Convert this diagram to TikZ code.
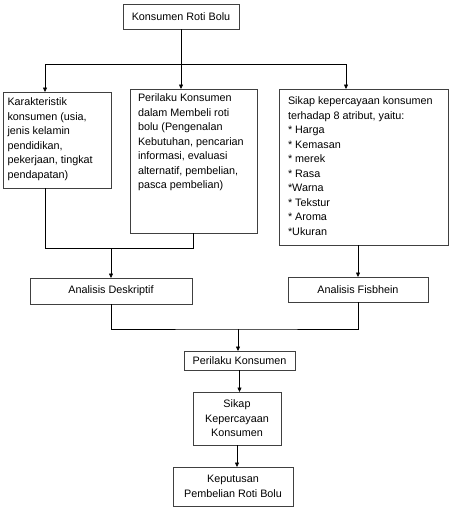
\documentclass[tikz,border=0pt]{standalone}
\usepackage{fontspec}
\setmainfont{Liberation Sans}
\usetikzlibrary{arrows.meta}

\tikzset{kotak/.style={draw=black!75, line width=0.7pt, outer sep=0pt, inner sep=0pt,
    font=\fontsize{10.8}{14.5}\selectfont},
  tengah/.style={kotak, align=center}}

\begin{document}
\begin{tikzpicture}[x=1pt,y=-1pt,>={Triangle[length=4.5pt,width=4pt]},line width=0.6pt]
\useasboundingbox (0,0) rectangle (451,514);

\node[tengah, minimum width=116pt, minimum height=25pt] (top) at (181,16.5) {Konsumen Roti Bolu};

\node[kotak, anchor=north west, inner xsep=4.5pt, inner ysep=6pt] (kar) at (3,92)
  {\parbox[t][84pt][t]{99pt}{\raggedright Karakteristik\\ konsumen (usia,\\ jenis kelamin\\ pendidikan,\\ pekerjaan, tingkat\\ pendapatan)}};
\node[kotak, anchor=north west, inner xsep=8pt, inner ysep=5pt] (per) at (130,89)
  {\parbox[t][134pt][t]{111pt}{\raggedright Perilaku Konsumen\\ dalam Membeli roti\\ bolu (Pengenalan\\ Kebutuhan, pencarian\\ informasi, evaluasi\\ alternatif, pembelian,\\ pasca pembelian)}};
\node[kotak, anchor=north west, inner xsep=9pt, inner ysep=8pt] (sikap) at (279,89)
  {\parbox[t][140pt][t]{151pt}{\raggedright Sikap kepercayaan konsumen\\ terhadap 8 atribut, yaitu:\\ {*} Harga\\ {*} Kemasan\\ {*} merek\\ {*} Rasa\\ {*}Warna\\ {*} Tekstur\\ {*} Aroma\\ {*}Ukuran}};

\node[tengah, minimum width=162pt, minimum height=26pt] (desk) at (111,291) {Analisis Deskriptif};
\node[tengah, minimum width=140pt, minimum height=25pt] (fis) at (358,289.5) {Analisis Fisbhein};

\node[tengah, minimum width=111pt, minimum height=19pt] (pk) at (239.5,360.5) {Perilaku Konsumen};
\node[tengah, minimum width=88pt, minimum height=53pt] (skp) at (237,418.5) {Sikap\\ Kepercayaan\\ Konsumen};
\node[tengah, minimum width=120pt, minimum height=39pt] (kep) at (233,486.5) {Keputusan\\ Pembelian Roti Bolu};

\coordinate (bl) at (45,64);
\coordinate (br) at (346,64);
\coordinate (m1) at (111,248);
\coordinate (m2) at (238,329);

\draw (top.south) -- (top.south |- bl);
\draw (bl) -- (br);
\draw[->] (bl) -- (bl |- kar.north);
\draw[->] (top.south |- bl) -- (top.south |- per.north);
\draw[->] (br) -- (br |- sikap.north);

\draw (bl |- kar.south) -- (bl |- m1) -- (per.south |- m1) -- (per.south);
\draw[->] (m1) -- (desk.north);
\draw[->] (fis.north |- sikap.south) -- (fis.north);

\draw (desk.south) |- (m2) -| (fis.south);
\draw[->] (m2) -- (m2 |- pk.north);
\draw[->] (pk.south) -- (pk.south |- skp.north);
\draw[->] (skp.south) -- (skp.south |- kep.north);
\end{tikzpicture}
\end{document}
